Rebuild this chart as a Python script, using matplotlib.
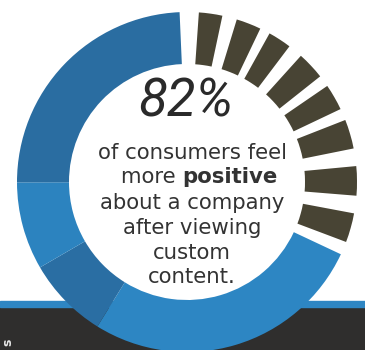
import matplotlib
matplotlib.use("Agg")
import matplotlib.pyplot as plt

# ---- data (angular shares of the ring, in degrees, clockwise from the top) ----
headline = "82%"
caption_lines = ["of consumers feel", "more ", "about a company", "after viewing", "custom", "content."]
caption_bold = "positive"

# dark tick segments and gaps between them (clockwise from start)
lead_gap = 6.5
dark_segments = [8.0, 8.5, 8.0, 9.5, 9.0, 10.0, 10.0, 10.0]
dark_gaps = [5.0, 3.5, 5.0, 4.0, 4.0, 6.0, 6.0, 4.5]
# blue part, split into shading bands
blue_parts = [96.5, 28.0, 30.0, 87.5]

# ---- styles ----
dark_col = "#484434"
blue_cols = ["#2d86c3", "#2a6ea3", "#2c83bf", "#2a6da1"]

fig = plt.figure(figsize=(3.65, 3.5), dpi=100)
ax = fig.add_axes([0, 0, 1, 1])
ax.set_xlim(0, 365)
ax.set_ylim(0, 350)
ax.axis("off")

# bottom band
ax.axhspan(0, 350 - 307, color="#2f2e2d", zorder=0)
ax.axhspan(350 - 307, 350 - 301, color="#2e86c3", zorder=0)

values, colors = [lead_gap], ["none"]
for s, g in zip(dark_segments, dark_gaps):
    values += [s, g]
    colors += [dark_col, "none"]
values += blue_parts
colors += blue_cols

wedges, _ = ax.pie(values, colors=colors, startangle=92.5, counterclock=False,
                   radius=170, center=(187, 168),
                   wedgeprops=dict(width=52, linewidth=0))
for w in wedges:
    w.set_zorder(2)
ax.set_xlim(0, 365)
ax.set_ylim(0, 350)
ax.set_aspect("auto")

# headline
ax.text(186, 350 - 102, headline, ha="center", va="center", fontsize=38,
        fontstyle="italic", fontweight="normal", family="Roboto",
        color="#2a2a2a", zorder=3)

fam = "DejaVu Sans"
tc = "#333333"
fs = 15.3
cx = 192
ys = [153, 177, 203, 228, 253, 277]
for i, (line, y) in enumerate(zip(caption_lines, ys)):
    if i == 1:
        ax.text(cx - 10, 350 - y, "more ", ha="right", va="center", fontsize=fs,
                family=fam, color=tc, zorder=3)
        ax.text(cx - 10, 350 - y, caption_bold, ha="left", va="center",
                fontsize=fs, family=fam, fontweight="bold", color=tc, zorder=3)
    else:
        ax.text(cx, 350 - y, line, ha="center", va="center", fontsize=fs,
                family=fam, color=tc, zorder=3)

ax.text(8, 4, "s", rotation=90, ha="center", va="bottom", fontsize=9,
        fontweight="bold", color="#e8e8e8", family="DejaVu Sans", zorder=3)

fig.savefig("out.png", dpi=100, facecolor="white")
